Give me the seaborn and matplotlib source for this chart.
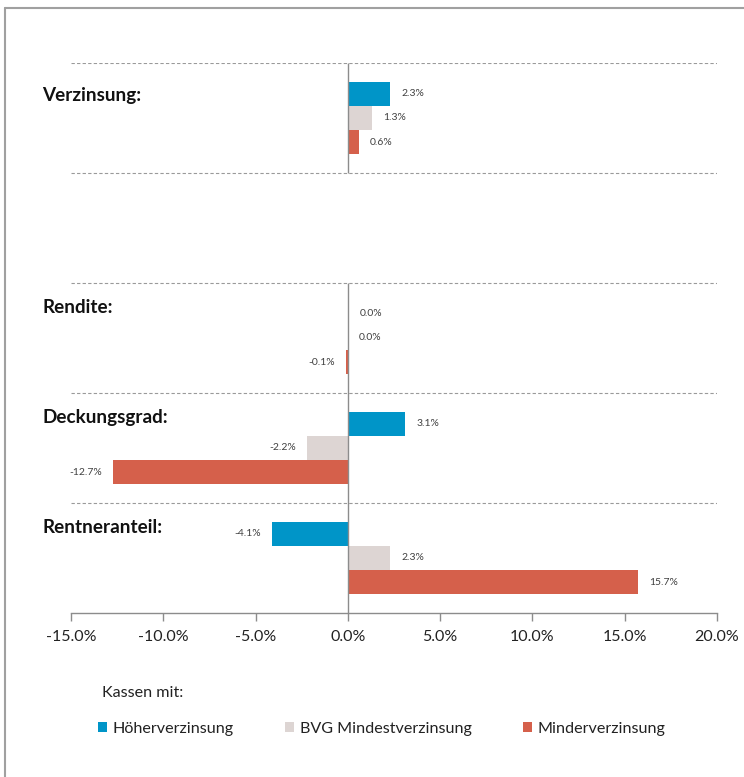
## Kassen-Vergleich: Verzinsung, Rendite, Deckungsgrad, Rentneranteil

import numpy as np
import pandas as pd
import matplotlib.pyplot as plt
import seaborn as sns
from matplotlib.patches import Patch
from matplotlib.lines import Line2D
from matplotlib.transforms import blended_transform_factory

# data (in %)
kategorien = ["Verzinsung:", "Rendite:", "Deckungsgrad:", "Rentneranteil:"]
kassen = ["Höherverzinsung", "BVG Mindestverzinsung", "Minderverzinsung"]
hoeher = [2.3, 0.049, 3.1, -4.1]
bvg_mindest = [1.3, 0.0, -2.2, 2.3]
minder = [0.6, -0.1, -12.7, 15.7]
x_ticks = [-15, -10, -5, 0, 5, 10, 15, 20]

farben = ["#0095c8", "#ddd5d3", "#d5604b"]

# long table for seaborn, plus an empty slot between Verzinsung and Rendite
df = pd.DataFrame({
    "kategorie": kategorien * 3,
    "kasse": np.repeat(kassen, len(kategorien)),
    "wert": hoeher + bvg_mindest + minder,
})
order = [kategorien[0], "gap"] + kategorien[1:]

sns.set_style("white")
plt.rcParams["font.family"] = ["Lato", "DejaVu Sans"]

fig = plt.figure(figsize=(7.44, 7.77), dpi=100)
ax = fig.add_axes([71 / 744, 1 - 613 / 777, 646 / 744, 550 / 777])

sns.barplot(data=df, y="kategorie", x="wert", hue="kasse", order=order,
            hue_order=kassen, palette=farben, saturation=1, width=0.66,
            orient="h", legend=False, edgecolor="none", ax=ax)

for cont in ax.containers:
    ax.bar_label(cont, fmt="{:.1f}%", padding=8, fontsize=7.5, color="#404040")

ax.set_xlim(-15, 20)
ax.set_ylim(len(order) - 0.5, -0.5)
ax.set_xticks(x_ticks)
ax.set_xticklabels([f"{t:.1f}%" for t in x_ticks], fontsize=11.5, color="#222222")
ax.set_yticks([])
ax.set_xlabel("")
ax.set_ylabel("")
ax.tick_params(axis="x", direction="out", length=6, width=1, color="#8c8c8c", bottom=True, pad=6)
for s in ["top", "left", "right"]:
    ax.spines[s].set_visible(False)
ax.spines["bottom"].set_color("#8c8c8c")
ax.spines["bottom"].set_linewidth(1)

# dashed separators and zero line (skipping the empty slot)
for y in [-0.5, 0.5, 1.5, 2.5, 3.5]:
    ax.axhline(y, color="#9a9a9a", linestyle=(0, (3, 2)), linewidth=0.8, zorder=0)
ax.vlines(0, -0.5, 0.5, color="#8c8c8c", linewidth=1, zorder=3)
ax.vlines(0, 1.5, 4.5, color="#8c8c8c", linewidth=1, zorder=3)

# group titles on the left
trans = blended_transform_factory(fig.transFigure, ax.transData)
label_y = {"Verzinsung:": -0.2, "Rendite:": 1.72, "Deckungsgrad:": 2.72, "Rentneranteil:": 3.72}
for name, yy in label_y.items():
    ax.text(42 / 744, yy, name, transform=trans, fontsize=13.6, fontweight="bold",
            ha="left", va="center", color="#111111")

# legend
fig.text(102 / 744, 1 - 693 / 777, "Kassen mit:", fontsize=11.6, color="#222222",
         ha="left", va="center")
handles = [Patch(facecolor=c, edgecolor="none") for c in farben]
fig.legend(handles, kassen, loc="center left", bbox_to_anchor=(83 / 744, 1 - 729 / 777),
           ncol=3, frameon=False, fontsize=11.6, handlelength=0.6, handleheight=0.6,
           handletextpad=0.35, columnspacing=3.15, labelcolor="#222222")

# thin frame at top and left
fig.add_artist(Line2D([5 / 744, 1], [1 - 8 / 777, 1 - 8 / 777], color="#a0a0a0", linewidth=1.5))
fig.add_artist(Line2D([5 / 744, 5 / 744], [0, 1 - 8 / 777], color="#a0a0a0", linewidth=1.5))

fig.savefig("out.png", dpi=100)
